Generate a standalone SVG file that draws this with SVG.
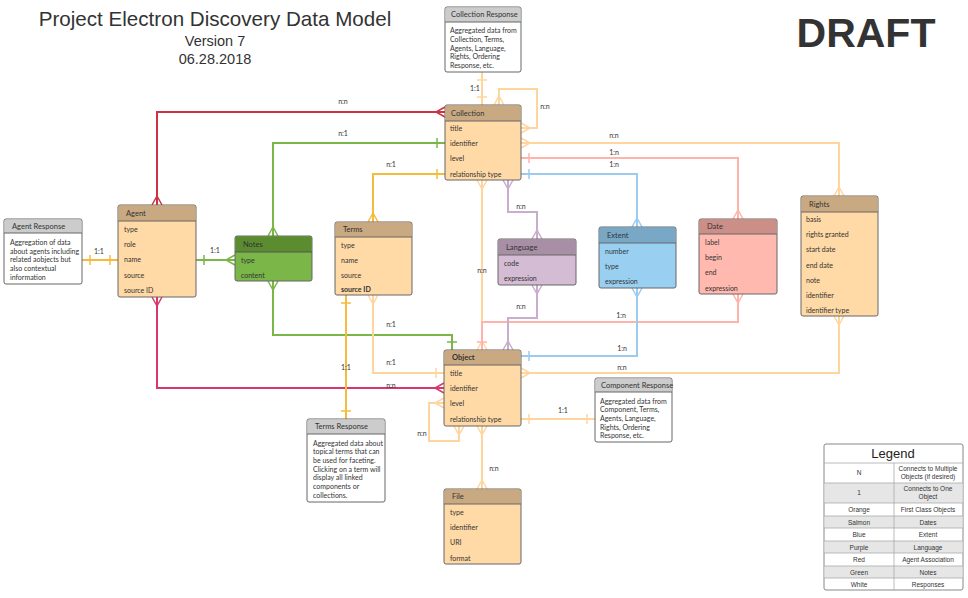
<svg xmlns="http://www.w3.org/2000/svg" width="968" height="598" viewBox="0 0 968 598">
<style>
.t{font-family:Lato,"Open Sans","Liberation Sans",sans-serif;font-size:7px;fill:#333}
.h{font-family:Lato,"Open Sans","Liberation Sans",sans-serif;font-size:7.5px;fill:#333}
.lbl{font-family:Lato,"Open Sans","Liberation Sans",sans-serif;font-size:7px;fill:#333;text-anchor:middle}
.lg{font-family:"Liberation Sans",Arial,sans-serif;font-size:6.5px;fill:#333;text-anchor:middle}
.box{stroke:#666;stroke-width:1}
.c{fill:none;stroke-width:2}
.red{stroke:#cc3344}.red2{stroke:#d6386a}.grn{stroke:#7ab648}.yel{stroke:#f5bb3c}.lo{stroke:#ffd59e}.sal{stroke:#ffb3aa}.blu{stroke:#9ccbee}.pur{stroke:#c9adcc}
.fo-h{fill:#c9a981}.fo-b{fill:#ffd9a6}
.gr-h{fill:#5c8c30}.gr-b{fill:#7ab648}
.pu-h{fill:#a88fa6}.pu-b{fill:#d4bcd5}
.bl-h{fill:#78a8c6}.bl-b{fill:#99d0f2}
.sa-h{fill:#cc8f88}.sa-b{fill:#ffb9ae}
.re-h{fill:#cccccc}.re-b{fill:#ffffff}
</style>
<defs>
<marker id="cf-red" viewBox="-11 -6 12 12" refX="0" refY="0" markerWidth="12" markerHeight="12" markerUnits="userSpaceOnUse" orient="auto-start-reverse"><path d="M0,-5 L-9,0 L0,5 M-9,0 H0" fill="none" stroke="#cc3344" stroke-width="1.5"/></marker>
<marker id="cf-red2" viewBox="-11 -6 12 12" refX="0" refY="0" markerWidth="12" markerHeight="12" markerUnits="userSpaceOnUse" orient="auto-start-reverse"><path d="M0,-5 L-9,0 L0,5 M-9,0 H0" fill="none" stroke="#d6386a" stroke-width="1.5"/></marker>
<marker id="cf-grn" viewBox="-11 -6 12 12" refX="0" refY="0" markerWidth="12" markerHeight="12" markerUnits="userSpaceOnUse" orient="auto-start-reverse"><path d="M0,-5 L-9,0 L0,5 M-9,0 H0" fill="none" stroke="#7ab648" stroke-width="1.5"/></marker>
<marker id="cf-yel" viewBox="-11 -6 12 12" refX="0" refY="0" markerWidth="12" markerHeight="12" markerUnits="userSpaceOnUse" orient="auto-start-reverse"><path d="M0,-5 L-9,0 L0,5 M-9,0 H0" fill="none" stroke="#f5bb3c" stroke-width="1.5"/></marker>
<marker id="cf-lo" viewBox="-11 -6 12 12" refX="0" refY="0" markerWidth="12" markerHeight="12" markerUnits="userSpaceOnUse" orient="auto-start-reverse"><path d="M0,-5 L-9,0 L0,5 M-9,0 H0" fill="none" stroke="#ffd59e" stroke-width="1.5"/></marker>
<marker id="cf-sal" viewBox="-11 -6 12 12" refX="0" refY="0" markerWidth="12" markerHeight="12" markerUnits="userSpaceOnUse" orient="auto-start-reverse"><path d="M0,-5 L-9,0 L0,5 M-9,0 H0" fill="none" stroke="#ffb3aa" stroke-width="1.5"/></marker>
<marker id="cf-blu" viewBox="-11 -6 12 12" refX="0" refY="0" markerWidth="12" markerHeight="12" markerUnits="userSpaceOnUse" orient="auto-start-reverse"><path d="M0,-5 L-9,0 L0,5 M-9,0 H0" fill="none" stroke="#9ccbee" stroke-width="1.5"/></marker>
<marker id="cf-pur" viewBox="-11 -6 12 12" refX="0" refY="0" markerWidth="12" markerHeight="12" markerUnits="userSpaceOnUse" orient="auto-start-reverse"><path d="M0,-5 L-9,0 L0,5 M-9,0 H0" fill="none" stroke="#c9adcc" stroke-width="1.5"/></marker>
<marker id="b-grn" viewBox="-11 -6 12 12" refX="0" refY="0" markerWidth="12" markerHeight="12" markerUnits="userSpaceOnUse" orient="auto-start-reverse"><path d="M-8,-5 V5" fill="none" stroke="#7ab648" stroke-width="1.5"/></marker>
<marker id="b-yel" viewBox="-11 -6 12 12" refX="0" refY="0" markerWidth="12" markerHeight="12" markerUnits="userSpaceOnUse" orient="auto-start-reverse"><path d="M-8,-5 V5" fill="none" stroke="#f5bb3c" stroke-width="1.5"/></marker>
<marker id="b-lo" viewBox="-11 -6 12 12" refX="0" refY="0" markerWidth="12" markerHeight="12" markerUnits="userSpaceOnUse" orient="auto-start-reverse"><path d="M-8,-5 V5" fill="none" stroke="#ffd59e" stroke-width="1.5"/></marker>
<marker id="b-sal" viewBox="-11 -6 12 12" refX="0" refY="0" markerWidth="12" markerHeight="12" markerUnits="userSpaceOnUse" orient="auto-start-reverse"><path d="M-8,-5 V5" fill="none" stroke="#ffb3aa" stroke-width="1.5"/></marker>
<marker id="b-blu" viewBox="-11 -6 12 12" refX="0" refY="0" markerWidth="12" markerHeight="12" markerUnits="userSpaceOnUse" orient="auto-start-reverse"><path d="M-8,-5 V5" fill="none" stroke="#9ccbee" stroke-width="1.5"/></marker>
</defs>
<rect width="968" height="598" fill="#ffffff"/>

<g id="title">
<text x="215" y="26" font-family="Liberation Sans,Arial,sans-serif" font-size="20.6" fill="#333" text-anchor="middle">Project Electron Discovery Data Model</text>
<text x="215" y="46" font-family="Liberation Sans,Arial,sans-serif" font-size="14.5" fill="#333" text-anchor="middle">Version 7</text>
<text x="215" y="64" font-family="Liberation Sans,Arial,sans-serif" font-size="14.5" fill="#333" text-anchor="middle">06.28.2018</text>
<text x="866" y="47" font-family="Liberation Sans,Arial,sans-serif" font-size="41" font-weight="bold" fill="#333" text-anchor="middle">DRAFT</text>
</g>

<g id="connectors">
<path class="c red" d="M157,205 V112 H445" marker-start="url(#cf-red)" marker-end="url(#cf-red)"/>
<path class="c grn" d="M273,236 V143 H445" marker-start="url(#cf-grn)" marker-end="url(#b-grn)"/>
<path class="c yel" d="M373,222 V174 H445" marker-start="url(#cf-yel)" marker-end="url(#b-yel)"/>
<path class="c lo" d="M482,72 V105" marker-start="url(#b-lo)" marker-end="url(#b-lo)"/>
<path class="c lo" d="M499,105 V89 H537 V128 H521" marker-start="url(#cf-lo)" marker-end="url(#cf-lo)"/>
<path class="c lo" d="M521,143 H839 V196" marker-start="url(#cf-lo)" marker-end="url(#cf-lo)"/>
<path class="c sal" d="M521,158 H738 V219" marker-start="url(#b-sal)" marker-end="url(#cf-sal)"/>
<path class="c blu" d="M521,174 H637 V227" marker-start="url(#b-blu)" marker-end="url(#cf-blu)"/>
<path class="c pur" d="M508,180 V212 H537 V239" marker-start="url(#cf-pur)" marker-end="url(#cf-pur)"/>
<path class="c lo" d="M482,180 V350" marker-start="url(#cf-lo)" marker-end="url(#cf-lo)"/>
<path class="c sal" d="M738,294 V322 H482 V350" marker-start="url(#cf-sal)" marker-end="url(#b-sal)"/>
<path class="c pur" d="M537,285 V318 H508 V350" marker-start="url(#cf-pur)" marker-end="url(#cf-pur)"/>
<path class="c blu" d="M637,288 V356 H521" marker-start="url(#cf-blu)" marker-end="url(#b-blu)"/>
<path class="c lo" d="M521,373 H839 V316" marker-start="url(#cf-lo)" marker-end="url(#cf-lo)"/>
<path class="c lo" d="M521,419 H595" marker-start="url(#b-lo)" marker-end="url(#b-lo)"/>
<path class="c lo" d="M444,403 H429 V441 H459 V426" marker-start="url(#cf-lo)" marker-end="url(#cf-lo)"/>
<path class="c lo" d="M482,426 V489" marker-start="url(#cf-lo)" marker-end="url(#cf-lo)"/>
<path class="c yel" d="M82,260 H118" marker-start="url(#b-yel)" marker-end="url(#b-yel)"/>
<path class="c grn" d="M196,260 H235" marker-start="url(#b-grn)" marker-end="url(#cf-grn)"/>
<path class="c grn" d="M273,281 V335 H452 V350" marker-start="url(#cf-grn)" marker-end="url(#b-grn)"/>
<path class="c red2" d="M157,297 V388 H444" marker-start="url(#cf-red2)" marker-end="url(#cf-red2)"/>
<path class="c lo" d="M373,295 V373 H444" marker-start="url(#cf-lo)" marker-end="url(#b-lo)"/>
<path class="c yel" d="M346,295 V419" marker-start="url(#b-yel)" marker-end="url(#b-yel)"/>
<text class="lbl" x="343" y="104">n:n</text>
<text class="lbl" x="343" y="136">n:1</text>
<text class="lbl" x="391" y="167">n:1</text>
<text class="lbl" x="475" y="91">1:1</text>
<text class="lbl" x="545" y="109">n:n</text>
<text class="lbl" x="614" y="138">n:n</text>
<text class="lbl" x="614" y="155">1:n</text>
<text class="lbl" x="614" y="167">1:n</text>
<text class="lbl" x="521" y="209">n:n</text>
<text class="lbl" x="482" y="273">n:n</text>
<text class="lbl" x="521" y="309">n:n</text>
<text class="lbl" x="621" y="318">1:n</text>
<text class="lbl" x="622" y="351">1:n</text>
<text class="lbl" x="622" y="370">n:n</text>
<text class="lbl" x="563" y="413">1:1</text>
<text class="lbl" x="422" y="436">n:n</text>
<text class="lbl" x="494" y="471">n:n</text>
<text class="lbl" x="99" y="254">1:1</text>
<text class="lbl" x="215" y="253">1:1</text>
<text class="lbl" x="391" y="327">n:1</text>
<text class="lbl" x="391" y="388">n:n</text>
<text class="lbl" x="391" y="365">n:1</text>
<text class="lbl" x="346" y="370">1:1</text>
</g>

<g id="collection-response">
<rect class="box re-b" x="445" y="7" width="76" height="65" rx="2"/>
<path class="re-h" d="M447,7.5 H519 A1.5,1.5 0 0 1 520.5,9 V22 H445.5 V9 A1.5,1.5 0 0 1 447,7.5Z"/>
<line x1="445" y1="22" x2="521" y2="22" stroke="#666"/>
<text class="h" x="451" y="17">Collection Response</text>
<text class="t" x="450" y="33">Aggregated data from</text>
<text class="t" x="450" y="42">Collection, Terms,</text>
<text class="t" x="450" y="51">Agents, Language,</text>
<text class="t" x="450" y="59">Rights, Ordering</text>
<text class="t" x="450" y="68">Response, etc.</text>
</g>

<g id="collection">
<rect class="box fo-b" x="445" y="105" width="76" height="75" rx="2"/>
<path class="fo-h" d="M447,105.5 H519 A1.5,1.5 0 0 1 520.5,107 V121 H445.5 V107 A1.5,1.5 0 0 1 447,105.5Z"/>
<line x1="445" y1="121" x2="521" y2="121" stroke="#666"/>
<text class="h" x="451" y="116">Collection</text>
<text class="t" x="450" y="130.5">title</text>
<text class="t" x="450" y="145.5">identifier</text>
<text class="t" x="450" y="160.5">level</text>
<text class="t" x="450" y="176.5">relationship type</text>
</g>

<g id="agent-response">
<rect class="box re-b" x="4" y="219" width="78" height="65" rx="2"/>
<path class="re-h" d="M6,219.5 H80 A1.5,1.5 0 0 1 81.5,221 V233 H4.5 V221 A1.5,1.5 0 0 1 6,219.5Z"/>
<line x1="4" y1="233" x2="82" y2="233" stroke="#666"/>
<text class="h" x="12" y="228.5">Agent Response</text>
<text class="t" x="10" y="244.5">Aggregation of data</text>
<text class="t" x="10" y="253.5">about agents including</text>
<text class="t" x="10" y="262">related aobjects but</text>
<text class="t" x="10" y="271">also contextual</text>
<text class="t" x="10" y="279.5">information</text>
</g>

<g id="agent">
<rect class="box fo-b" x="118" y="205" width="78" height="92" rx="2"/>
<path class="fo-h" d="M120,205.5 H194 A1.5,1.5 0 0 1 195.5,207 V221 H118.5 V207 A1.5,1.5 0 0 1 120,205.5Z"/>
<line x1="118" y1="221" x2="196" y2="221" stroke="#666"/>
<text class="h" x="126" y="215.5">Agent</text>
<text class="t" x="124" y="231.5">type</text>
<text class="t" x="124" y="246.5">role</text>
<text class="t" x="124" y="262">name</text>
<text class="t" x="124" y="277.5">source</text>
<text class="t" x="124" y="292.5">source ID</text>
</g>

<g id="notes">
<rect class="box gr-b" x="235" y="236" width="77" height="45" rx="2"/>
<path class="gr-h" d="M237,236.5 H310 A1.5,1.5 0 0 1 311.5,238 V252 H235.5 V238 A1.5,1.5 0 0 1 237,236.5Z"/>
<line x1="235" y1="252" x2="312" y2="252" stroke="#555"/>
<text class="h" x="243" y="246.5">Notes</text>
<text class="t" x="241" y="262.5">type</text>
<text class="t" x="241" y="277.5">content</text>
</g>

<g id="terms">
<rect class="box fo-b" x="335" y="222" width="77" height="73" rx="2"/>
<path class="fo-h" d="M337,222.5 H410 A1.5,1.5 0 0 1 411.5,224 V237 H335.5 V224 A1.5,1.5 0 0 1 337,222.5Z"/>
<line x1="335" y1="237" x2="412" y2="237" stroke="#666"/>
<text class="h" x="343" y="231.5">Terms</text>
<text class="t" x="341" y="247.5">type</text>
<text class="t" x="341" y="262.5">name</text>
<text class="t" x="341" y="277.5">source</text>
<text class="t" x="341" y="291.5" font-weight="bold" fill="#222">source ID</text>
</g>

<g id="language">
<rect class="box pu-b" x="498" y="239" width="78" height="46" rx="2"/>
<path class="pu-h" d="M500,239.5 H574 A1.5,1.5 0 0 1 575.5,241 V255 H498.5 V241 A1.5,1.5 0 0 1 500,239.5Z"/>
<line x1="498" y1="255" x2="576" y2="255" stroke="#666"/>
<text class="h" x="506" y="249.5">Language</text>
<text class="t" x="504" y="265.5">code</text>
<text class="t" x="504" y="280.5">expression</text>
</g>

<g id="extent">
<rect class="box bl-b" x="599" y="227" width="77" height="61" rx="2"/>
<path class="bl-h" d="M601,227.5 H674 A1.5,1.5 0 0 1 675.5,229 V243 H599.5 V229 A1.5,1.5 0 0 1 601,227.5Z"/>
<line x1="599" y1="243" x2="676" y2="243" stroke="#666"/>
<text class="h" x="607" y="237.5">Extent</text>
<text class="t" x="605" y="253.5">number</text>
<text class="t" x="605" y="268.5">type</text>
<text class="t" x="605" y="283.5">expression</text>
</g>

<g id="date">
<rect class="box sa-b" x="699" y="219" width="78" height="75" rx="2"/>
<path class="sa-h" d="M701,219.5 H775 A1.5,1.5 0 0 1 776.5,221 V234 H699.5 V221 A1.5,1.5 0 0 1 701,219.5Z"/>
<line x1="699" y1="234" x2="777" y2="234" stroke="#666"/>
<text class="h" x="707" y="228.5">Date</text>
<text class="t" x="705" y="244.5">label</text>
<text class="t" x="705" y="259.5">begin</text>
<text class="t" x="705" y="274.5">end</text>
<text class="t" x="705" y="290.5">expression</text>
</g>

<g id="rights">
<rect class="box fo-b" x="801" y="196" width="77" height="120" rx="2"/>
<path class="fo-h" d="M803,196.5 H876 A1.5,1.5 0 0 1 877.5,198 V212 H801.5 V198 A1.5,1.5 0 0 1 803,196.5Z"/>
<line x1="801" y1="212" x2="878" y2="212" stroke="#666"/>
<text class="h" x="809" y="206.5">Rights</text>
<text class="t" x="806" y="221.5">basis</text>
<text class="t" x="806" y="236.5">rights granted</text>
<text class="t" x="806" y="251.5">start date</text>
<text class="t" x="806" y="267.5">end date</text>
<text class="t" x="806" y="282.5">note</text>
<text class="t" x="806" y="297.5">identifier</text>
<text class="t" x="806" y="312.5">identifier type</text>
</g>

<g id="object">
<rect class="box fo-b" x="444" y="350" width="77" height="76" rx="2"/>
<path class="fo-h" d="M446,350.5 H519 A1.5,1.5 0 0 1 520.5,352 V365 H444.5 V352 A1.5,1.5 0 0 1 446,350.5Z"/>
<line x1="444" y1="365" x2="521" y2="365" stroke="#666"/>
<text class="h" x="452" y="359.5" font-weight="bold">Object</text>
<text class="t" x="450" y="375.5">title</text>
<text class="t" x="450" y="390.5">identifier</text>
<text class="t" x="450" y="405.5">level</text>
<text class="t" x="450" y="421.5">relationship type</text>
</g>

<g id="component-response">
<rect class="box re-b" x="595" y="378" width="77" height="64" rx="2"/>
<path class="re-h" d="M597,378.5 H670 A1.5,1.5 0 0 1 671.5,380 V392 H595.5 V380 A1.5,1.5 0 0 1 597,378.5Z"/>
<line x1="595" y1="392" x2="672" y2="392" stroke="#666"/>
<text class="h" x="601" y="387.5">Component Response</text>
<text class="t" x="600" y="403.5">Aggregated data from</text>
<text class="t" x="600" y="412">Component, Terms,</text>
<text class="t" x="600" y="420.5">Agents, Language,</text>
<text class="t" x="600" y="429.5">Rights, Ordering</text>
<text class="t" x="600" y="438">Response, etc.</text>
</g>

<g id="terms-response">
<rect class="box re-b" x="307" y="419" width="78" height="83" rx="2"/>
<path class="re-h" d="M309,419.5 H383 A1.5,1.5 0 0 1 384.5,421 V434 H307.5 V421 A1.5,1.5 0 0 1 309,419.5Z"/>
<line x1="307" y1="434" x2="385" y2="434" stroke="#666"/>
<text class="h" x="315" y="428.5">Terms Response</text>
<text class="t" x="313" y="445.5">Aggregated data about</text>
<text class="t" x="313" y="454">topical terms that can</text>
<text class="t" x="313" y="463">be used for faceting.</text>
<text class="t" x="313" y="471.5">Clicking on a term will</text>
<text class="t" x="313" y="480">display all linked</text>
<text class="t" x="313" y="489">components or</text>
<text class="t" x="313" y="497.5">collections.</text>
</g>

<g id="file">
<rect class="box fo-b" x="444" y="489" width="77" height="75" rx="2"/>
<path class="fo-h" d="M446,489.5 H519 A1.5,1.5 0 0 1 520.5,491 V504 H444.5 V491 A1.5,1.5 0 0 1 446,489.5Z"/>
<line x1="444" y1="504" x2="521" y2="504" stroke="#666"/>
<text class="h" x="452" y="498.5">File</text>
<text class="t" x="450" y="514.5">type</text>
<text class="t" x="450" y="529.5">identifier</text>
<text class="t" x="450" y="544.5">URI</text>
<text class="t" x="450" y="561">format</text>
</g>

<g id="legend">
<rect x="824" y="444" width="139" height="146" rx="2" fill="#fff" stroke="#888"/>
<rect x="824.5" y="483" width="138" height="20" fill="#e6e6e6"/>
<rect x="824.5" y="516" width="138" height="12" fill="#e6e6e6"/>
<rect x="824.5" y="541" width="138" height="12" fill="#e6e6e6"/>
<rect x="824.5" y="566" width="138" height="12" fill="#e6e6e6"/>
<g stroke="#aaa" stroke-width="0.8">
<line x1="824" y1="463" x2="963" y2="463"/>
<line x1="824" y1="483" x2="963" y2="483"/>
<line x1="824" y1="503" x2="963" y2="503"/>
<line x1="824" y1="516" x2="963" y2="516"/>
<line x1="824" y1="528" x2="963" y2="528"/>
<line x1="824" y1="541" x2="963" y2="541"/>
<line x1="824" y1="553" x2="963" y2="553"/>
<line x1="824" y1="566" x2="963" y2="566"/>
<line x1="824" y1="578" x2="963" y2="578"/>
<line x1="894" y1="463" x2="894" y2="590"/>
</g>
<text x="893" y="458" font-family="Liberation Sans,Arial,sans-serif" font-size="13" fill="#222" text-anchor="middle">Legend</text>
<text class="lg" x="859" y="475">N</text>
<text class="lg" x="928" y="471">Connects to Multiple</text>
<text class="lg" x="928" y="479">Objects (if desired)</text>
<text class="lg" x="859" y="495">1</text>
<text class="lg" x="928" y="491">Connects to One</text>
<text class="lg" x="928" y="499">Object</text>
<text class="lg" x="859" y="512">Orange</text>
<text class="lg" x="928" y="512">First Class Objects</text>
<text class="lg" x="859" y="524.5">Salmon</text>
<text class="lg" x="928" y="524.5">Dates</text>
<text class="lg" x="859" y="537">Blue</text>
<text class="lg" x="928" y="537">Extent</text>
<text class="lg" x="859" y="549.5">Purple</text>
<text class="lg" x="928" y="549.5">Language</text>
<text class="lg" x="859" y="562">Red</text>
<text class="lg" x="928" y="562">Agent Association</text>
<text class="lg" x="859" y="574.5">Green</text>
<text class="lg" x="928" y="574.5">Notes</text>
<text class="lg" x="859" y="587">White</text>
<text class="lg" x="928" y="587">Responses</text>
</g>
</svg>
